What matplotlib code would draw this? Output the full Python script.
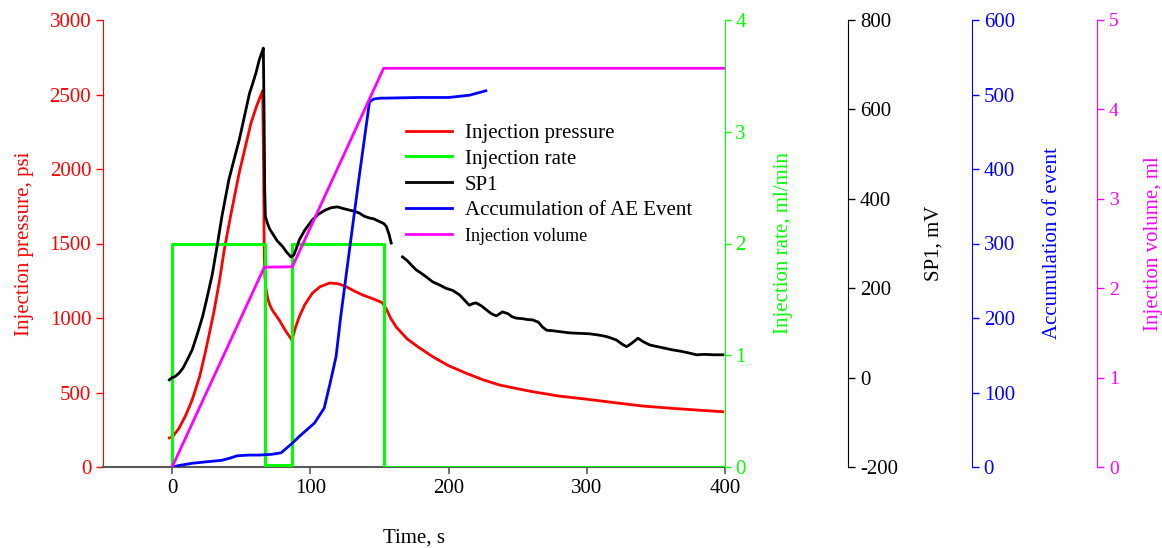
import matplotlib
matplotlib.use("Agg")
import matplotlib.pyplot as plt
import numpy as np

plt.rcParams['font.family'] = ['Liberation Serif', 'DejaVu Serif']
plt.rcParams['axes.unicode_minus'] = False

# ---- data ----
t_pressure = [-2, 0, 5, 10, 14.5, 20, 24.4, 30, 34, 37.7, 42, 48.5, 53, 57, 61, 65.5,
              66.2, 66.6, 67, 67.8, 69, 70.5, 72.5, 77.5, 82, 86.7, 89, 92, 96, 101.5,
              107, 114, 120, 126, 132, 138, 145, 152, 155, 158, 162, 170, 179, 188.6,
              200, 212.8, 225, 237, 250, 261, 280, 300, 320, 340.6, 360, 380, 398.5]
pressure = [195, 200, 260, 350, 450, 610, 785, 1030, 1235, 1456, 1670, 1973, 2150, 2306,
            2420, 2525, 2000, 1500, 1300, 1200, 1140, 1090, 1053, 986, 915, 852, 930,
            1009, 1090, 1167, 1210, 1235, 1230, 1210, 1180, 1154, 1130, 1103, 1060, 1000,
            941, 860, 799, 740, 680, 629, 585, 550, 525, 505, 476, 455, 432, 409, 395,
            382, 371]

t_rate = [0, 0, 66.9, 66.9, 86.7, 86.7, 153, 153, 400]
rate = [0, 2, 2, 0.02, 0.02, 2, 2, 0, 0]

t_sp1 = [-2, 0, 2, 5, 8, 11, 14.5, 18, 22, 25, 29, 32.6, 36, 41, 45, 48.5, 52, 56, 58,
         60.6, 63, 65, 66, 66.5, 67, 67.5, 69, 70.5, 72.5, 76, 80, 83, 86, 88, 90, 92,
         96, 101.5, 106, 111, 115, 119.6, 124, 128, 132, 135.5, 139, 142.8, 146, 150,
         153, 155, 157, 158.5, 162, 166.7, 170, 173, 176.6, 180, 184, 188.6, 193, 198,
         203, 208, 211, 215, 218, 220, 224, 228, 231, 234.5, 239, 243, 246, 249, 253,
         257, 261, 265, 268, 271, 275, 280, 287.7, 295, 302, 309, 314, 318, 321.5, 325,
         328.8, 333, 337, 341, 345.6, 350, 356, 362, 368, 374, 379.5, 385, 392, 398.5]
sp1 = [-5, 0, 2, 10, 22, 40, 62, 95, 136, 175, 230, 295, 360, 442, 490, 531, 580, 636,
       655, 681, 710, 728, 737, 600, 420, 360, 345, 333, 323, 306, 293, 280, 270, 274,
       290, 308, 330, 353, 366, 375, 380, 382, 378, 375, 372, 368, 361, 357, 355, 349,
       345, 338, 320, 301, np.nan, 270, 262, 252, 241, 234, 225, 214, 208, 200, 195,
       185, 175, 162, 166, 167, 160, 150, 143, 138, 147, 143, 136, 133, 132, 130, 129,
       124, 113, 106, 105, 103, 100, 99, 98, 95, 92, 88, 84, 76, 69, 78, 88, 80, 73,
       70, 66, 62, 59, 55, 51, 52, 51, 51]

t_ae = [0, 5, 14.5, 25, 36, 42, 47, 55, 63, 72, 78.8, 87, 92, 103, 110, 114, 118.6,
        122, 128, 135, 142.8, 146, 150, 179, 200, 215, 227]
ae_events = [0, 2, 5, 7, 9, 12, 15, 16, 16, 17, 19, 32, 41, 59, 79, 110, 148, 202,
             287, 385, 490, 494, 495, 496, 496, 499, 505]

t_volume = [0, 66.7, 87, 153, 400]
volume = [0, 2.235, 2.24, 4.46, 4.46]

RED, GREEN, BLUE, MAG = '#FF0000', '#00FF00', '#0000FF', '#FF00FF'

fig = plt.figure(figsize=(11.62, 5.48), dpi=100)
ax = fig.add_axes([103 / 1162, 81 / 548, 622 / 1162, 447 / 548])

# main axis: pressure
l1, = ax.plot(t_pressure, pressure, color=RED, lw=2, label='Injection pressure')
ax.set_xlim(-50, 400)
ax.set_ylim(0, 3000)
ax.set_xticks([0, 100, 200, 300, 400])
ax.set_yticks(np.arange(0, 3001, 500))
ax.set_xlabel('Time, s', fontsize=15, labelpad=22)
ax.set_ylabel('Injection pressure, psi', color=RED, fontsize=15, labelpad=11)
ax.tick_params(axis='y', colors=RED, labelsize=15, length=5, width=1)
ax.tick_params(axis='x', colors='#595959', labelcolor='black', labelsize=15, length=5, width=1.2)
ax.spines['top'].set_visible(False)
ax.spines['right'].set_visible(False)
ax.spines['left'].set_color(RED)
ax.spines['bottom'].set_color('#595959')
ax.spines['bottom'].set_linewidth(1.5)


def side_axis(offset, color):
    a = ax.twinx()
    for s in ('top', 'left', 'bottom'):
        a.spines[s].set_visible(False)
    a.spines['right'].set_color(color)
    if offset:
        a.spines['right'].set_position(('axes', offset))
    a.tick_params(axis='y', colors=color, length=5, width=1)
    a.patch.set_visible(False)
    return a


# injection rate
ax2 = side_axis(None, GREEN)
l2, = ax2.plot(t_rate, rate, color=GREEN, lw=2.2, label='Injection rate')
ax2.set_ylim(0, 4)
ax2.set_yticks([0, 1, 2, 3, 4])
ax2.tick_params(axis='y', labelsize=15, length=4)
ax2.set_ylabel('Injection rate, ml/min', color=GREEN, fontsize=15, labelpad=20)

# SP1
ax3 = side_axis(1.198, 'black')
l3, = ax3.plot(t_sp1, sp1, color='black', lw=2, label='SP1')
ax3.set_ylim(-200, 800)
ax3.set_yticks(np.arange(-200, 801, 200))
ax3.tick_params(axis='y', labelsize=15)
ax3.set_ylabel('SP1, mV', color='black', fontsize=15, labelpad=19)

# accumulation of AE events
ax4 = side_axis(1.397, BLUE)
l4, = ax4.plot(t_ae, ae_events, color=BLUE, lw=2, label='Accumulation of AE Event')
ax4.set_ylim(0, 600)
ax4.set_yticks(np.arange(0, 601, 100))
ax4.tick_params(axis='y', labelsize=15)
ax4.set_ylabel('Accumulation of event', color=BLUE, fontsize=15, labelpad=20)

# injection volume
ax5 = side_axis(1.598, MAG)
l5, = ax5.plot(t_volume, volume, color=MAG, lw=2, label='Injection volume')
ax5.set_ylim(0, 5)
ax5.set_yticks([0, 1, 2, 3, 4, 5])
ax5.tick_params(axis='y', labelsize=14)
ax5.set_ylabel('Injection volume, ml', color=MAG, fontsize=15, labelpad=18)

leg = ax5.legend(handles=[l1, l2, l3, l4, l5], loc='upper left',
                 bbox_to_anchor=(398 / 1162, 1 - 115 / 548), bbox_transform=fig.transFigure,
                 frameon=False, fontsize=15, handlelength=2.2, handletextpad=0.6,
                 labelspacing=0.3, borderaxespad=0)
leg.get_texts()[4].set_fontsize(13)

fig.savefig('out.png', dpi=100)
